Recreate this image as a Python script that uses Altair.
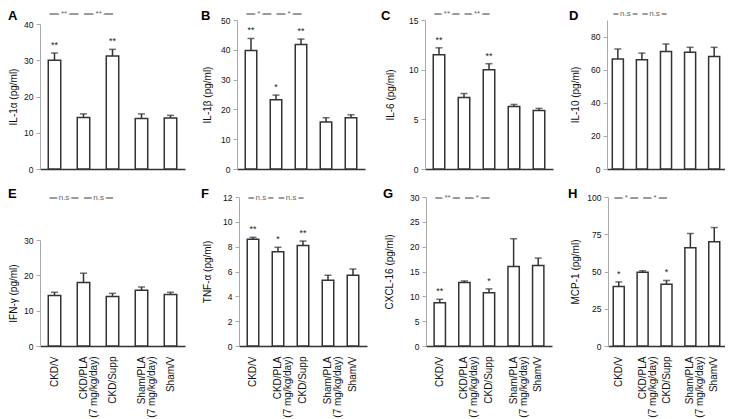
import altair as alt
import pandas as pd

groups = ["CKD/V", "CKD/PLA\n(7 mg/kg/day)", "CKD/Supp", "Sham/PLA\n(7 mg/kg/day)", "Sham/V"]

letters = ["A", "B", "C", "D", "E", "F", "G", "H"]
y_titles = ["IL-1α (pg/ml)", "IL-1β (pg/ml)", "IL-6 (pg/ml)", "IL-10 (pg/ml)",
            "IFN-γ (pg/ml)", "TNF-α (pg/ml)", "CXCL-16 (pg/ml)", "MCP-1 (pg/ml)"]

means = [
    [30.0, 14.2, 31.2, 13.9, 14.1],
    [39.8, 23.2, 41.8, 15.8, 17.2],
    [11.5, 7.2, 10.0, 6.3, 5.9],
    [66.5, 66.0, 71.0, 70.5, 68.0],
    [14.3, 18.0, 14.0, 15.8, 14.6],
    [8.6, 7.6, 8.1, 5.3, 5.7],
    [8.7, 12.8, 10.7, 16.0, 16.2],
    [40.0, 49.5, 41.5, 66.0, 70.0],
]
errors = [
    [2.0, 1.0, 1.8, 1.3, 0.7],
    [4.0, 1.6, 1.8, 1.4, 1.0],
    [0.7, 0.4, 0.6, 0.2, 0.2],
    [6.0, 4.0, 4.5, 3.0, 5.5],
    [0.9, 2.6, 0.9, 0.9, 0.6],
    [0.15, 0.35, 0.35, 0.4, 0.5],
    [0.7, 0.3, 0.8, 5.6, 1.5],
    [3.0, 1.0, 2.5, 9.5, 9.5],
]
stars = [
    ["**", "", "**", "", ""],
    ["**", "*", "**", "", ""],
    ["**", "", "**", "", ""],
    ["", "", "", "", ""],
    ["", "", "", "", ""],
    ["**", "*", "**", "", ""],
    ["**", "", "*", "", ""],
    ["*", "", "*", "", ""],
]
bracket_labels = [
    ["**", "**"], ["*", "*"], ["**", "**"], ["n.s", "n.s"],
    ["n.s", "n.s"], ["n.s", "n.s"], ["**", "*"], ["*", "*"],
]
y_domains = [[0, 40], [0, 50], [0, 15], [0, 90], [0, 30], [0, 12], [0, 30], [0, 100]]
y_ticks = [
    [0, 10, 20, 30, 40], [0, 10, 20, 30, 40, 50], [0, 5, 10, 15], [0, 20, 40, 60, 80],
    [0, 10, 20, 30], [0, 2, 4, 6, 8, 10, 12], [0, 5, 10, 15, 20, 25, 30], [0, 25, 50, 75, 100],
]

# layout / style parameters
widths = [145, 128, 128, 118, 145, 128, 126, 117]
leads = [32, 36, 44, 38, 32, 38, 43, 40]
title_x = [26.5, 30, 35, 32, 26.5, 32, 37, 33]
pad_inner = [0.57, 0.54, 0.54, 0.54, 0.57, 0.54, 0.54, 0.54]
pad_outer = [0.285, 0.33, 0.33, 0.22, 0.285, 0.33, 0.33, 0.22]
range_top = [4, 0, 0, 0, 43, 0, 0, 0]
H = 149

FONT = "Liberation Sans"
EDGE = "#333333"


def panel(i):
    bottom = i >= 4
    df = pd.DataFrame({
        "group": groups,
        "mean": means[i],
        "top": [m + e for m, e in zip(means[i], errors[i])],
        "star": stars[i],
    })
    xscale = alt.Scale(domain=groups, paddingInner=pad_inner[i], paddingOuter=pad_outer[i])
    xaxis = alt.Axis(
        title=None, ticks=False, labels=bottom, labelAngle=-90,
        labelExpr="split(datum.label, '\\n')", labelFontSize=10, labelPadding=10,
        labelLineHeight=10, labelColor="#111", domainColor=EDGE, domainWidth=1.5,
    )
    yscale = alt.Scale(domain=y_domains[i], range=[H, range_top[i]], nice=False, zero=True)
    yaxis = alt.Axis(
        values=y_ticks[i], title=y_titles[i], titleX=-title_x[i], titleBaseline="middle",
        titleFontSize=10, titleFontWeight="normal", titleColor="#111",
        grid=False, domainColor="#aaaaaa", tickColor="#aaaaaa", tickSize=4,
        labelFontSize=8.5, labelPadding=3, labelColor="#111", labelOverlap=False,
    )

    def X(field, bp=None):
        kw = {} if bp is None else {"bandPosition": bp}
        return alt.X(field + ":N", scale=xscale, axis=xaxis, sort=groups, **kw)

    def Y(field):
        return alt.Y(field + ":Q", scale=yscale, axis=yaxis)

    base = alt.Chart(df)
    bars = base.mark_bar(fill="white", stroke=EDGE, strokeWidth=1.5).encode(
        x=X("group"), y=Y("mean"))
    err = base.mark_rule(color=EDGE, strokeWidth=1.5).encode(
        x=X("group"), y=Y("mean"), y2="top:Q")
    cap = base.mark_tick(color=EDGE, thickness=1.5, size=7, orient="horizontal").encode(
        x=X("group"), y=Y("top"))
    star = base.mark_text(baseline="bottom", dy=-3, fontSize=9, color="#222").encode(
        x=X("group"), y=Y("top"), text="star:N")

    by = 1 if bottom else -6
    step = widths[i] / (5 - pad_inner[i] + 2 * pad_outer[i])
    layers = [bars, err, cap, star]
    spans = [(0, 1, 0.1), (1, 2, 0.55)]
    for k, (s, e, bp) in enumerate(spans):
        bdf = pd.DataFrame({"start": [groups[s]], "end": [groups[e]], "label": [bracket_labels[i][k]]})
        bc = alt.Chart(bdf)
        rule = bc.mark_rule(color="#9a9a9a", strokeWidth=2).encode(
            x=X("start", bp), x2=alt.X2("end:N", bandPosition=bp), y=alt.value(by))
        halo = bc.mark_text(fontSize=8, color="white", stroke="white", strokeWidth=4,
                            baseline="middle", dx=-step / 2).encode(
            x=X("end", bp), y=alt.value(by), text="label:N")
        txt = bc.mark_text(fontSize=8, color="#666", baseline="middle", dx=-step / 2).encode(
            x=X("end", bp), y=alt.value(by), text="label:N")
        layers += [rule, halo, txt]

    ldf = pd.DataFrame({"letter": [letters[i]]})
    letter = alt.Chart(ldf).mark_text(align="left", baseline="alphabetic", fontSize=13,
                                      fontWeight="bold", color="black").encode(
        x=alt.value(-leads[i]), y=alt.value(1 if bottom else 0), text="letter:N")
    layers.append(letter)
    return alt.layer(*layers).properties(width=widths[i], height=H)


row1 = alt.hconcat(*[panel(i) for i in range(4)], spacing=16)
row2 = alt.hconcat(*[panel(i) for i in range(4, 8)], spacing=16)
chart = alt.vconcat(row1, row2, spacing=14).properties(
    padding={"top": 2, "left": 0, "right": 0, "bottom": 0}).configure(
    font=FONT).configure_view(stroke=None)

chart.save("out.html", embed_options={"renderer": "svg", "actions": False})
